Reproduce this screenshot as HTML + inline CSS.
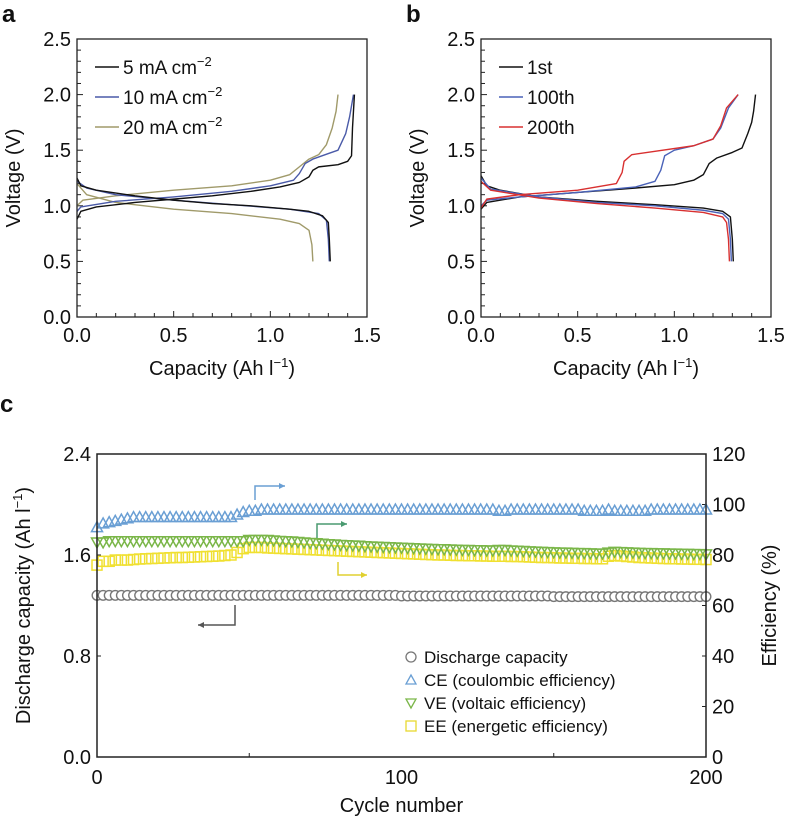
<!DOCTYPE html>
<html><head><meta charset="utf-8"><style>
body{margin:0;background:#fff;}
svg{display:block;font-family:"Liberation Sans",sans-serif;}
</style></head><body>
<svg id="s" width="788" height="821" viewBox="0 0 788 821"></svg>
<script>
// ---- Panel a data (capacity, voltage)
const a5c=[[0,0.88],[0.02,0.95],[0.1,0.99],[0.3,1.03],[0.5,1.06],[0.7,1.09],[0.9,1.13],[1.05,1.17],[1.15,1.21],[1.2,1.26],[1.22,1.32],[1.25,1.35],[1.35,1.37],[1.4,1.40],[1.42,1.45],[1.425,1.7],[1.43,1.85],[1.435,2.0]];
const a5d=[[0,1.25],[0.02,1.18],[0.1,1.14],[0.3,1.09],[0.5,1.05],[0.7,1.02],[0.9,1.0],[1.1,0.97],[1.2,0.95],[1.27,0.91],[1.3,0.85],[1.305,0.7],[1.31,0.5]];
const a10c=[[0,0.95],[0.02,0.99],[0.2,1.04],[0.5,1.08],[0.8,1.13],[1.0,1.18],[1.12,1.23],[1.15,1.29],[1.18,1.38],[1.22,1.42],[1.3,1.47],[1.35,1.5],[1.39,1.65],[1.41,1.8],[1.43,2.0]];
const a10d=[[0,1.22],[0.05,1.16],[0.2,1.1],[0.5,1.05],[0.8,1.01],[1.1,0.97],[1.25,0.93],[1.29,0.87],[1.3,0.7],[1.305,0.5]];
const a20c=[[0,1.0],[0.03,1.05],[0.2,1.09],[0.5,1.14],[0.8,1.18],[1.0,1.23],[1.1,1.28],[1.15,1.35],[1.2,1.42],[1.25,1.46],[1.29,1.55],[1.32,1.7],[1.34,1.85],[1.35,2.0]];
const a20d=[[0,1.2],[0.05,1.1],[0.2,1.03],[0.5,0.97],[0.8,0.93],[1.05,0.88],[1.15,0.84],[1.2,0.78],[1.215,0.65],[1.22,0.5]];
// ---- Panel b data
const b1c=[[0,0.97],[0.03,1.03],[0.2,1.08],[0.5,1.12],[0.8,1.16],[1.0,1.19],[1.1,1.23],[1.15,1.28],[1.18,1.38],[1.22,1.43],[1.3,1.48],[1.35,1.52],[1.38,1.65],[1.4,1.75],[1.41,1.85],[1.42,2.0]];
const b1d=[[0,1.27],[0.03,1.18],[0.1,1.14],[0.3,1.08],[0.6,1.04],[0.9,1.01],[1.15,0.98],[1.25,0.95],[1.29,0.9],[1.3,0.7],[1.305,0.5]];
const b100c=[[0,1.0],[0.03,1.05],[0.2,1.08],[0.5,1.12],[0.8,1.17],[0.9,1.22],[0.93,1.32],[0.95,1.45],[1.0,1.5],[1.1,1.54],[1.2,1.6],[1.24,1.7],[1.28,1.88],[1.33,2.0]];
const b100d=[[0,1.25],[0.05,1.15],[0.3,1.08],[0.6,1.03],[0.9,1.0],[1.15,0.96],[1.25,0.93],[1.28,0.88],[1.29,0.7],[1.295,0.5]];
const b200c=[[0,0.98],[0.03,1.06],[0.2,1.1],[0.5,1.14],[0.7,1.2],[0.73,1.3],[0.74,1.4],[0.78,1.46],[0.9,1.49],[1.1,1.54],[1.2,1.6],[1.24,1.72],[1.27,1.88],[1.33,2.0]];
const b200d=[[0,1.22],[0.05,1.14],[0.3,1.07],[0.6,1.02],[0.9,0.98],[1.15,0.94],[1.25,0.9],[1.27,0.85],[1.28,0.7],[1.285,0.5]];
const abTicksX=["0.0","0.5","1.0","1.5"];
const abTicksY=["0.0","0.5","1.0","1.5","2.0","2.5"];
// ---- Panel c data (every 2 cycles)
const cycleStep=2;
const capData=[1.28,1.28,1.28,1.28,1.28,1.28,1.28,1.28,1.28,1.28,1.28,1.28,1.28,1.28,1.28,1.28,1.28,1.28,1.28,1.28,1.28,1.28,1.28,1.28,1.28,1.28,1.28,1.28,1.28,1.28,1.28,1.28,1.28,1.28,1.28,1.28,1.28,1.28,1.28,1.28,1.28,1.28,1.28,1.28,1.28,1.28,1.28,1.28,1.28,1.28,1.275,1.275,1.275,1.275,1.275,1.275,1.275,1.275,1.275,1.275,1.275,1.275,1.275,1.275,1.275,1.275,1.275,1.275,1.275,1.275,1.275,1.275,1.275,1.275,1.275,1.27,1.27,1.27,1.27,1.27,1.27,1.27,1.27,1.27,1.27,1.27,1.27,1.27,1.27,1.27,1.27,1.27,1.27,1.27,1.27,1.27,1.27,1.27,1.27,1.27,1.27];
const ceData=[91,92.5,93,93.5,94,94.5,95,95,95,95,95,95,95,95,95,95,95,95,95,95,95,95,95,96,97,97.5,97.5,98,98,98,98,98,98,98,98,98,98,98,98,98,98,98,98,98,98,98,98,98,98,98,98,98,98,98,98,98,98,98,98,98,98,98,98,98,98,98,97.5,97.5,98,98,98,98,98,98,98,98,98,98,98,98,97.5,97.5,97.5,97.5,98,97.5,97.5,97.5,97.5,97.5,97.5,98,98,98,98,98,98,98,98,98,98];
const veData=[85,85,85.5,85.5,85.5,85.5,85.5,85.5,85.5,85.5,85.5,85.5,85.5,85.5,85.5,85.5,85.5,85.5,85.5,85.5,85.5,85.5,85.5,85.5,85.5,86,86,86,86,85.8,85.6,85.5,85.4,85.2,85,84.8,84.7,84.5,84.3,84.2,84,83.9,83.8,83.7,83.5,83.4,83.3,83.2,83.1,83,82.9,82.8,82.7,82.6,82.5,82.4,82.3,82.3,82.2,82.1,82,82,81.9,81.9,81.8,81.8,82,82,81.8,81.7,81.6,81.5,81.4,81.3,81.2,81.1,81,81,80.9,80.8,80.8,80.7,80.6,80.6,81,81.3,81.2,81.1,81,80.9,80.8,80.8,80.7,80.7,80.6,80.6,80.5,80.5,80.4,80.4,80.3];
const eeData=[76,77.5,77.5,78,78,78,78.2,78.4,78.5,78.6,78.7,78.8,78.9,79,79,79.1,79.2,79.3,79.4,79.5,79.6,79.8,80,81,82.5,83,83,83,82.8,82.7,82.6,82.5,82.4,82.3,82.2,82.1,82,81.9,81.8,81.7,81.6,81.5,81.4,81.3,81.2,81.1,81,80.9,80.8,80.7,80.6,80.5,80.4,80.3,80.2,80.1,80,80,79.9,79.8,79.8,79.7,79.7,79.6,79.6,79.5,79.5,79.5,79.4,79.4,79.3,79.2,79.1,79,79,78.9,78.8,78.8,78.7,78.7,78.6,78.6,78.5,78.5,79.5,79.8,79.6,79.4,79.2,79,78.9,78.8,78.7,78.6,78.5,78.5,78.4,78.4,78.3,78.3,78.2];
const cTicksX=["0","100","200"];
const cTicksL=["0.0","0.8","1.6","2.4"];
const cTicksR=["0","20","40","60","80","100","120"];

const S=document.getElementById('s');
const NS='http://www.w3.org/2000/svg';
function mk(tag,attrs,parent){const e=document.createElementNS(NS,tag);for(const k in attrs)e.setAttribute(k,attrs[k]);(parent||S).appendChild(e);return e;}
function txt(x,y,s,size,anchor,parent,extra){const e=mk('text',Object.assign({x:x,y:y,'font-size':size,'text-anchor':anchor||'middle',fill:'#111'},extra||{}),parent);e.innerHTML=s;return e;}

function voltagePanel(ox,letter,series,legend,gname){
  const g=mk('g',{});
  
  
  const L=ox,R=ox+290,T=39,B=317;
  const X=v=>L+v/1.5*(R-L), Y=v=>B-v/2.5*(B-T);
  const lt=txt(L-75,22,letter,24,'start',g,{'font-weight':'bold'});
  
  for(let i=1;i<25;i++){mk('line',{x1:L,x2:L+(i%5?4:6),y1:Y(i/10),y2:Y(i/10),stroke:'#222','stroke-width':1},g);}
  for(let i=1;i<15;i++){mk('line',{x1:X(i/10),x2:X(i/10),y1:B,y2:B-(i%5?4:6),stroke:'#222','stroke-width':1},g);}
  abTicksY.forEach(t=>{const e=txt(L-6,Y(+t)+7,t,20,'end',g);});
  abTicksX.forEach(t=>{const e=txt(X(+t),B+25,t,20,'middle',g);});
  series.forEach(s=>{
    const p=mk('polyline',{points:s.d.map(q=>X(q[0])+','+Y(q[1])).join(' '),fill:'none',stroke:s.c,'stroke-width':1.4,'stroke-linejoin':'round'},g);
    
    
  });
  mk('rect',{x:L,y:T,width:R-L,height:B-T,fill:'none',stroke:'#222','stroke-width':1.3},g);
  legend.forEach((l,i)=>{
    const y=T+28+i*30;
    mk('line',{x1:L+18,x2:L+42,y1:y,y2:y,stroke:l.c,'stroke-width':1.6},g);
    const e=txt(L+46,y+7,l.t,19,'start',g);
    
    
  });
  const yt=txt(0,0,'Voltage (V)',20,'middle',g,{transform:`translate(${L-57},${(T+B)/2}) rotate(-90)`});
  
  const xt=txt((L+R)/2,B+58,'Capacity (Ah l<tspan dy="-8" font-size="13">−1</tspan><tspan dy="8">)</tspan>',20,'middle',g);
  
}
const sup='<tspan dy="-8" font-size="13">−2</tspan>';
voltagePanel(77,'a',[{d:a20c,c:'#a09a6a',n:'line-20ma-charge'},{d:a20d,c:'#a09a6a',n:'line-20ma-discharge'},{d:a10c,c:'#4a5aa8',n:'line-10ma-charge'},{d:a10d,c:'#4a5aa8',n:'line-10ma-discharge'},{d:a5c,c:'#111',n:'line-5ma-charge'},{d:a5d,c:'#111',n:'line-5ma-discharge'}],
 [{t:'5 mA cm'+sup,c:'#111'},{t:'10 mA cm'+sup,c:'#4a5aa8'},{t:'20 mA cm'+sup,c:'#a09a6a'}],'panel-a-chart');
voltagePanel(481,'b',[{d:b1c,c:'#111',n:'line-1st-charge'},{d:b1d,c:'#111',n:'line-1st-discharge'},{d:b100c,c:'#4a62b8',n:'line-100th-charge'},{d:b100d,c:'#4a62b8',n:'line-100th-discharge'},{d:b200c,c:'#d83030',n:'line-200th-charge'},{d:b200d,c:'#d83030',n:'line-200th-discharge'}],
 [{t:'1st',c:'#111'},{t:'100th',c:'#4a62b8'},{t:'200th',c:'#d83030'}],'panel-b-chart');

// ---- Panel c
(function(){
  const g=mk('g',{});
  
  
  const L=97,R=706,T=454,B=757;
  const X=c=>L+c/200*(R-L), YL=v=>B-v/2.4*(B-T), YR=v=>B-v/120*(B-T);
  const lt=txt(0,412,'c',24,'start',g,{'font-weight':'bold'});
  
  cTicksL.forEach(t=>{mk('line',{x1:L,x2:L+4,y1:YL(+t),y2:YL(+t),stroke:'#222'},g);const e=txt(L-6,YL(+t)+7,t,20,'end',g,{'font-stretch':'condensed'});});
  cTicksR.forEach(t=>{mk('line',{x1:R,x2:R-4,y1:YR(+t),y2:YR(+t),stroke:'#222'},g);const e=txt(R+6,YR(+t)+7,t,20,'start',g);});
  [50,150].forEach(c=>mk('line',{x1:X(c),x2:X(c),y1:B,y2:B-4,stroke:'#222'},g));
  cTicksX.forEach(t=>{const e=txt(X(+t),B+27,t,20,'middle',g);});
  const mg=mk('g',{},g);
  
  
  function tri(x,y,up,col){const s=5.5;const p=up?`${x},${y-s} ${x-s},${y+s*0.8} ${x+s},${y+s*0.8}`:`${x},${y+s} ${x-s},${y-s*0.8} ${x+s},${y-s*0.8}`;return mk('polygon',{points:p,fill:'none',stroke:col,'stroke-width':1.5},mg);}
  eeData.forEach((v,i)=>{const e=mk('rect',{x:X(i*cycleStep)-5,y:YR(v)-5,width:10,height:10,fill:'none',stroke:'#f0e030','stroke-width':1.5},mg);});
  veData.forEach((v,i)=>{const e=tri(X(i*cycleStep),YR(v),false,'#7ab648');});
  ceData.forEach((v,i)=>{const e=tri(X(i*cycleStep),YR(v),true,'#6a9fd4');});
  capData.forEach((v,i)=>{const e=mk('circle',{cx:X(i*cycleStep),cy:YL(v),r:4.8,fill:'#fff',stroke:'#777','stroke-width':1.4},mg);});
  mk('rect',{x:L,y:T,width:R-L,height:B-T,fill:'none',stroke:'#222','stroke-width':1.5},g);
  function arrow(pts,col,name){const p=mk('polyline',{points:pts.map(q=>q.join(',')).join(' '),fill:'none',stroke:col,'stroke-width':1.5},g);
    const a=pts[pts.length-1],b=pts[pts.length-2];const d=Math.sign(a[0]-b[0]);mk('polygon',{points:`${a[0]},${a[1]} ${a[0]-6*d},${a[1]-3} ${a[0]-6*d},${a[1]+3}`,fill:col},g);}
  arrow([[255,500],[255,486],[285,486]],'#6a9fd4','ce-axis-arrow');
  arrow([[317,538],[317,524],[347,524]],'#4a9a70','ve-axis-arrow');
  arrow([[338,562],[338,575],[367,575]],'#e0d030','ee-axis-arrow');
  arrow([[235,605],[235,625],[198,625]],'#555','capacity-axis-arrow');
  const leg=[['Discharge capacity','c','#777'],['CE (coulombic efficiency)','u','#6a9fd4'],['VE (voltaic efficiency)','d','#7ab648'],['EE (energetic efficiency)','s','#e8d830']];
  leg.forEach((l,i)=>{const y=657+i*23,x=411;
    if(l[1]=='c')mk('circle',{cx:x,cy:y,r:5,fill:'#fff',stroke:l[2],'stroke-width':1.3},g);
    else if(l[1]=='s')mk('rect',{x:x-5,y:y-5,width:10,height:10,fill:'none',stroke:l[2],'stroke-width':1.3},g);
    else {const s=5,up=l[1]=='u';mk('polygon',{points:up?`${x},${y-s} ${x-s},${y+s*0.8} ${x+s},${y+s*0.8}`:`${x},${y+s} ${x-s},${y-s*0.8} ${x+s},${y-s*0.8}`,fill:'none',stroke:l[2],'stroke-width':1.3},g);}
    const e=txt(424,y+6,l[0],17,'start',g);});
  const yl=txt(0,0,'Discharge capacity (Ah l<tspan dy="-8" font-size="13">−1</tspan><tspan dy="8">)</tspan>',20,'middle',g,{transform:`translate(${L-67},${(T+B)/2}) rotate(-90)`});
  
  const yr=txt(0,0,'Efficiency (%)',20,'middle',g,{transform:`translate(${R+70},${(T+B)/2}) rotate(-90)`});
  
  const xt=txt((L+R)/2,B+55,'Cycle number',20,'middle',g);
  
})();
</script>
</body></html>
